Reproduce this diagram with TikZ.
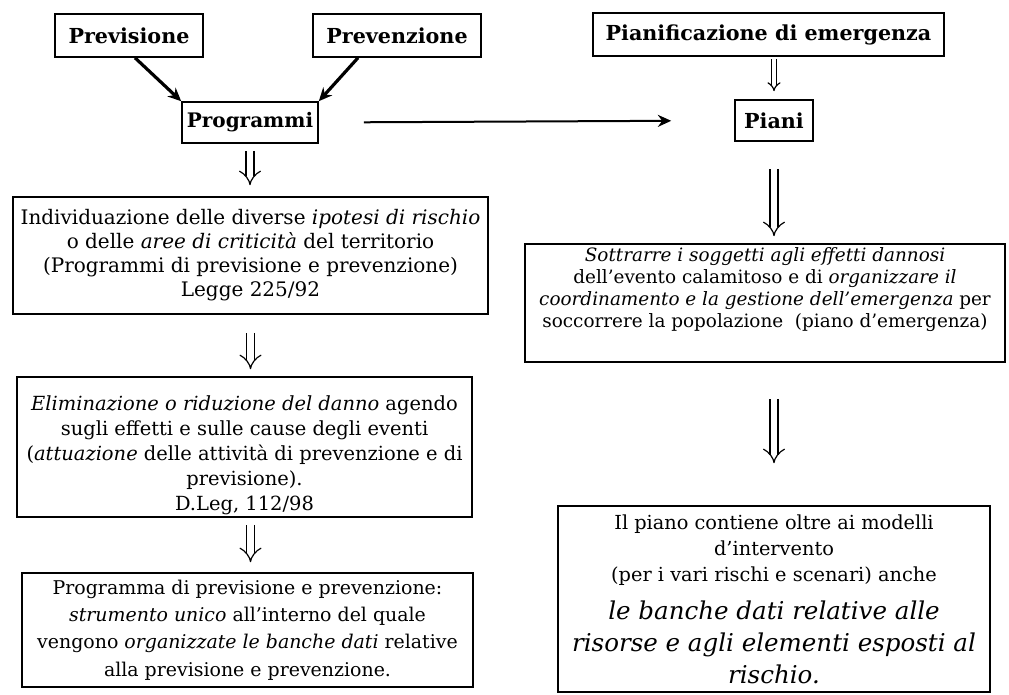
\documentclass[tikz,border=0pt]{standalone}
\usepackage{fontspec}
\setmainfont{DejaVu Serif}
\usepackage{tikz}
\usetikzlibrary{arrows.meta}

\begin{document}
\begin{tikzpicture}[x=0.75pt,y=-0.75pt,
  box/.style={draw,line width=1.2pt,align=center,inner sep=0pt},
  head/.style={box,font=\fontsize{15.5}{18}\selectfont\bfseries},
  txt/.style={box,font=\fontsize{14.6}{18}\selectfont},
  hollow/.style={double,double distance=5pt,line width=0.9pt,-{Implies}},
  push/.style={line width=2.4pt,-{Stealth[length=10pt,width=9pt]}}]
\useasboundingbox (0,0) rectangle (1009,695);

% titoli
\node[head,minimum width=111pt,minimum height=32.25pt] (prev) at (129,35.5) {Previsione};
\node[head,minimum width=126pt,minimum height=32.25pt] (prevz) at (397,35.5) {Prevenzione};
\node[head,minimum width=263.25pt,minimum height=32.25pt] (pianif) at (768.5,34.5) {Pianificazione di emergenza};
\node[head,font=\fontsize{15}{18}\selectfont\bfseries,minimum width=102pt,minimum height=30.75pt] (prog) at (250,122.5) {Programmi};
\node[head,minimum width=58.5pt,minimum height=30.75pt] (piani) at (774,120.5) {Piani};

% colonna sinistra
\node[txt,font=\fontsize{15}{18}\selectfont,minimum width=356.25pt,minimum height=87.75pt] (indiv) at (250.5,255.5)
  {Individuazione delle diverse \textit{ipotesi di rischio}\\
   o delle \textit{aree di criticità} del territorio\\
   (Programmi di previsione e prevenzione)\\
   Legge 225/92};
\node[txt,font=\fontsize{14.6}{18.75}\selectfont,minimum width=341.25pt,minimum height=105pt] (elim) at (244.5,447)
  {\rule{0pt}{24pt}\textit{Eliminazione o riduzione del danno} agendo\\
   sugli effetti e sulle cause degli eventi\\
   (\textit{attuazione} delle attività di prevenzione e di\\
   previsione).\\
   D.Leg, 112/98};
\node[txt,font=\fontsize{14.2}{20.5}\selectfont,minimum width=338.25pt,minimum height=85.5pt] (strum) at (247.5,630)
  {Programma di previsione e prevenzione:\\
   \textit{strumento unico} all'interno del quale\\
   vengono \textit{organizzate le banche dati} relative\\
   alla previsione e prevenzione.};

% colonna destra
\node[txt,font=\fontsize{13.8}{16.5}\selectfont,minimum width=360pt,minimum height=88.5pt] (sottr) at (765,303)
  {\textit{Sottrarre i soggetti agli effetti dannosi}\\
   dell'evento calamitoso e di \textit{organizzare il}\\
   \textit{coordinamento e la gestione dell'emergenza} per\\
   soccorrere la popolazione \ (piano d'emergenza)\\[7pt]};
\node[txt,font=\fontsize{14.5}{19.5}\selectfont,minimum width=324pt,minimum height=139.5pt] (piano) at (774,599)
  {Il piano contiene oltre ai modelli\\
   d'intervento\\
   (per i vari rischi e scenari) anche\\[9pt]
   \fontsize{18.4}{24}\selectfont\itshape le banche dati relative alle\\[4.5pt]
   \fontsize{18.4}{24}\selectfont\itshape risorse e agli elementi esposti al\\[4.5pt]
   \fontsize{18.4}{24}\selectfont\itshape rischio.};

% frecce
\draw[push] ([xshift=4.5pt]prev.south) -- (prog.north west);
\draw[push] ([xshift=-29.25pt]prevz.south) -- (prog.north east);
\draw[push,line width=1.5pt,shorten <=33.75pt,shorten >=47.25pt] (prog.east) -- (piani.west);
\draw[hollow,double distance=2.5pt,shorten <=1.5pt,shorten >=6pt] (pianif.south -| piani.north) -- (piani.north);
\draw[hollow,shorten <=5.25pt,shorten >=8.25pt] (prog.south) -- (prog.south |- indiv.north);
\draw[hollow,shorten <=13.5pt,shorten >=5.25pt] (indiv.south) -- (indiv.south |- elim.north);
\draw[hollow,shorten <=5.25pt,shorten >=7.5pt] (indiv.south |- elim.south) -- (indiv.south |- strum.north);
\draw[hollow,shorten <=20.25pt,shorten >=5.25pt] (piani.south) -- (piani.south |- sottr.north);
\draw[hollow,shorten <=27pt,shorten >=31.5pt] (piano.north |- sottr.south) -- (piano.north);
\end{tikzpicture}
\end{document}
